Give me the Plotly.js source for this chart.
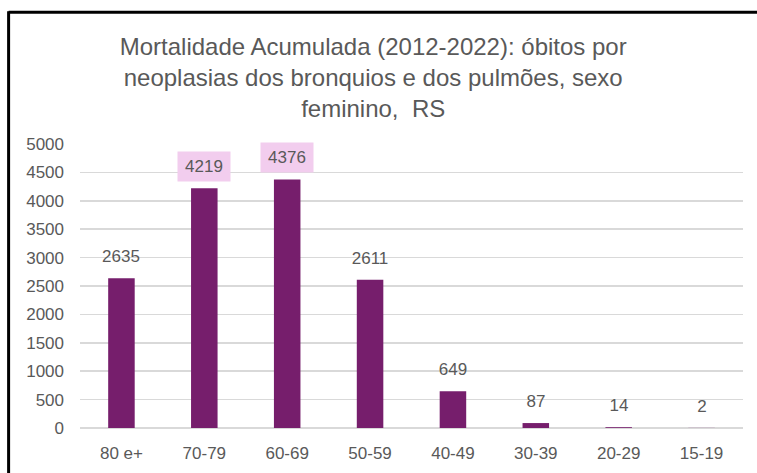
<!DOCTYPE html>
<html>
<head>
<meta charset="utf-8">
<script src="https://cdn.plot.ly/plotly-3.0.1.min.js"></script>
<style>
html,body{margin:0;padding:0;background:#fff;}
#chart{width:757px;height:473px;}
</style>
</head>
<body>
<div id="chart"></div>
<script>
// Data
const categories = ["80 e+", "70-79", "60-69", "50-59", "40-49", "30-39", "20-29", "15-19"];
const obitos = [2635, 4219, 4376, 2611, 649, 87, 14, 2];
const highlighted = [false, true, true, false, false, false, false, false];
const yTickValues = [0, 500, 1000, 1500, 2000, 2500, 3000, 3500, 4000, 4500, 5000];

const titleText = "Mortalidade Acumulada (2012-2022): óbitos por<br>neoplasias dos bronquios e dos pulmões, sexo<br>feminino,  RS";

const textColor = "#595959";
const barColor = "#761E6C";
const labelFont = {family: "Liberation Sans, Arial, sans-serif", size: 17, color: textColor};

const trace = {
  type: "bar",
  x: categories,
  y: obitos,
  marker: {color: barColor},
  width: 0.32,
  hoverinfo: "x+y"
};

const annotations = categories.map((c, i) => ({
  x: c,
  y: obitos[i],
  xref: "x",
  yref: "y",
  text: String(obitos[i]),
  showarrow: false,
  yanchor: "bottom",
  yshift: 6,
  width: 50,
  height: 27,
  bgcolor: highlighted[i] ? "#F2CDEE" : "rgba(0,0,0,0)",
  font: labelFont
}));

const layout = {
  width: 757,
  height: 473,
  margin: {l: 79.5, r: 13.5, t: 144, b: 44.5},
  paper_bgcolor: "#ffffff",
  plot_bgcolor: "#ffffff",
  showlegend: false,
  bargap: 0.68,
  title: {
    text: titleText,
    x: 0.493,
    xref: "container",
    xanchor: "center",
    y: 1 - 55 / 473,
    yref: "container",
    yanchor: "top",
    font: {family: "Liberation Sans, Arial, sans-serif", size: 24, color: textColor}
  },
  xaxis: {
    type: "category",
    categoryarray: categories,
    tickfont: labelFont,
    showline: false,
    showgrid: false,
    zeroline: false,
    ticks: "",
    ticklabelstandoff: 13,
    fixedrange: true
  },
  yaxis: {
    range: [0, 5000],
    tickvals: yTickValues,
    tickfont: labelFont,
    showline: false,
    showgrid: true,
    gridcolor: "#D9D9D9",
    gridwidth: 1.5,
    zeroline: true,
    zerolinecolor: "#D9D9D9",
    zerolinewidth: 1.5,
    ticks: "",
    ticklabelstandoff: 15,
    fixedrange: true
  },
  annotations: annotations,
  shapes: [
    {type: "line", xref: "paper", yref: "paper",
     x0: (8 - 79.5) / 664, x1: (8 - 79.5) / 664, y0: (428.5 - 480) / 284.5, y1: (428.5 - 11) / 284.5,
     line: {color: "#000000", width: 3}},
    {type: "line", xref: "paper", yref: "paper",
     x0: (8 - 79.5) / 664, x1: (770 - 79.5) / 664, y0: (428.5 - 12) / 284.5, y1: (428.5 - 12) / 284.5,
     line: {color: "#000000", width: 3}}
  ]
};

Plotly.newPlot("chart", [trace], layout, {displayModeBar: false, staticPlot: true});
</script>
</body>
</html>
